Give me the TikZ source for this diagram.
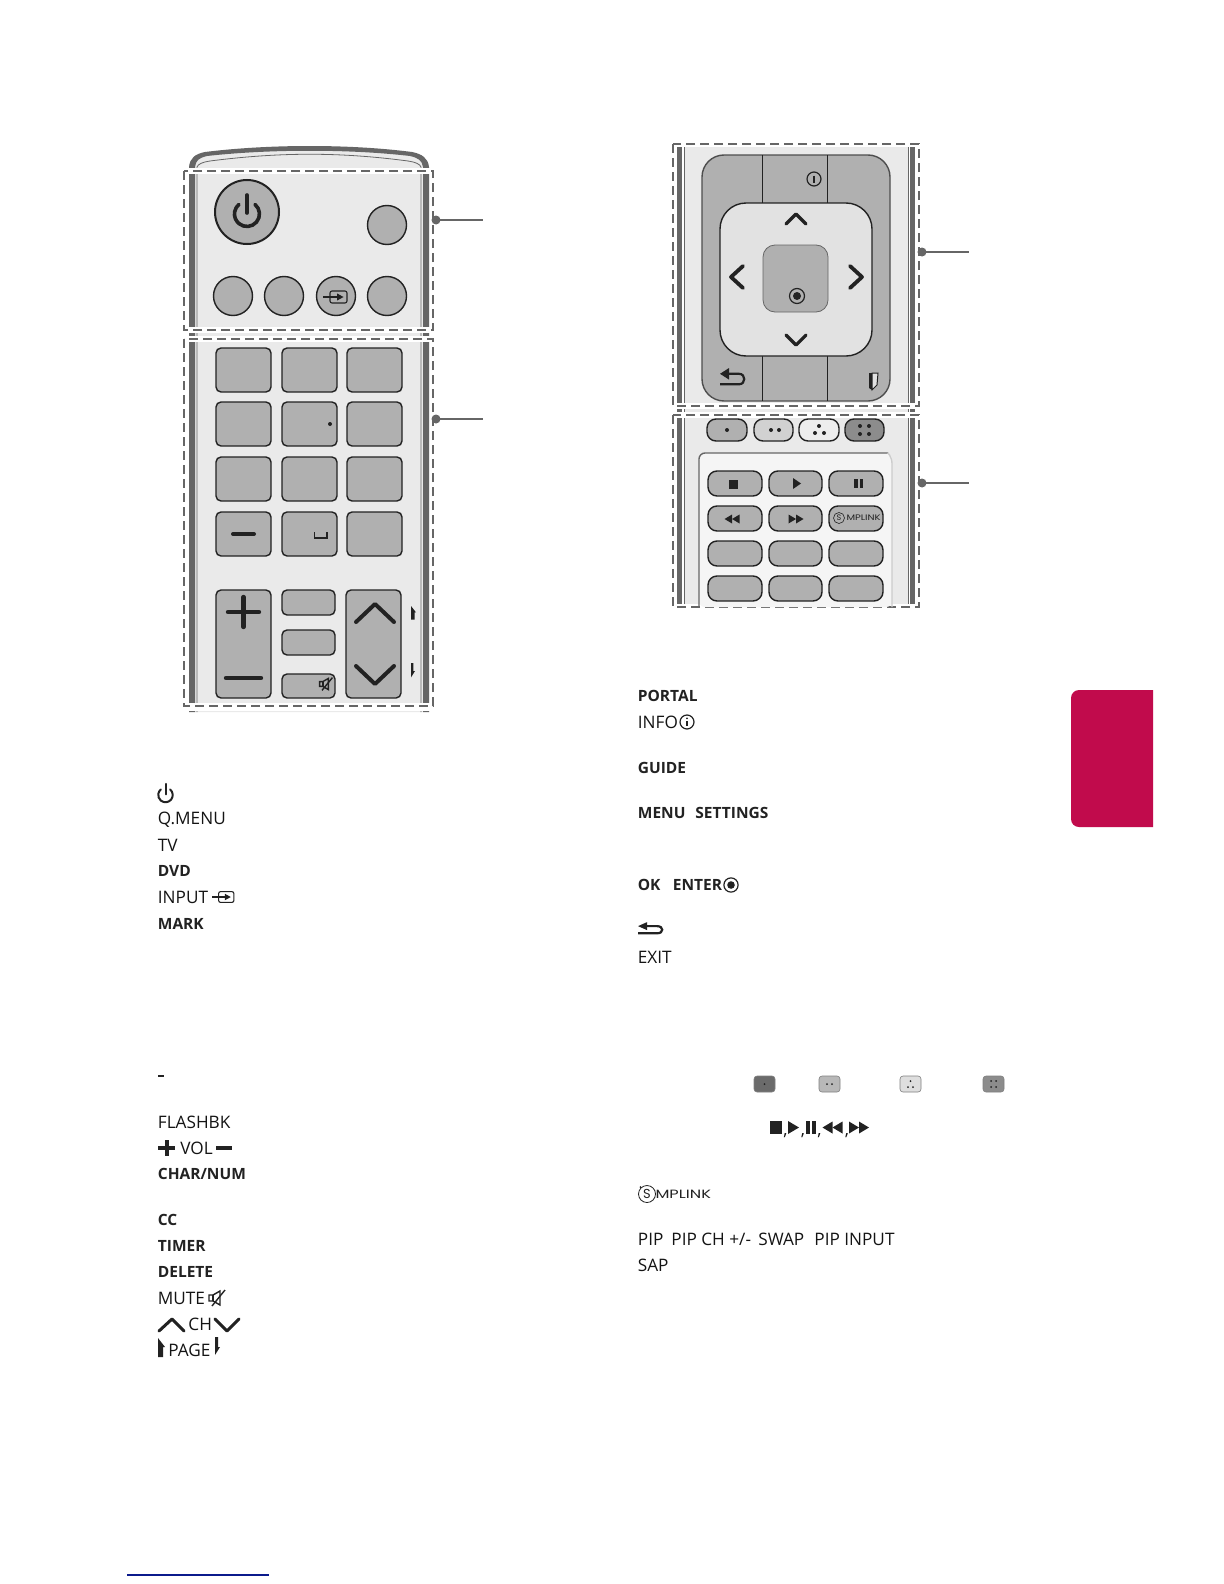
\documentclass[tikz,border=0pt]{standalone}
\usepackage{fontspec}
\setmainfont{Open Sans}
\newfontfamily\logofont{Poppins}
\usepackage{tikz}

\definecolor{keygray}{HTML}{B0B0B0}
\definecolor{bodygray}{HTML}{EAEAEA}
\definecolor{padgray}{HTML}{E2E2E2}
\definecolor{stripgray}{HTML}{666666}
\definecolor{inkblack}{HTML}{222222}
\definecolor{tabred}{HTML}{C10B4C}
\definecolor{linkblue}{HTML}{0B1A8C}

\tikzset{
  key/.style={fill=keygray,draw=inkblack,line width=0.7pt},
  squarekey/.style={key,rounded corners=2.5pt},
  softkey/.style={key,rounded corners=4.5pt},
  strip/.style={fill=stripgray},
  thinline/.style={draw=stripgray,line width=0.4pt},
  halo/.style={draw=white,line width=2.6pt},
  dashbox/.style={draw=stripgray,line width=1.3pt,dash pattern=on 4.7pt off 2.3pt},
  leader/.style={draw=stripgray,line width=1pt},
  blob/.style={fill=stripgray},
  glyph/.style={draw=inkblack,line width=2pt,line cap=round,line join=round},
  ink/.style={fill=inkblack},
  plain/.style={anchor=west,inner sep=0pt,text height=6.1pt,text depth=0pt,text=black!92,font=\fontsize{8.6}{10}\selectfont},
  heavy/.style={anchor=west,inner sep=0pt,text height=5.6pt,text depth=0pt,text=inkblack,font=\fontsize{7.75}{10}\selectfont\bfseries},
  powericon/.pic={
    \draw[glyph,line width=#1] (8,-9.6) arc (-50:230:12.5);
    \draw[glyph,line width=#1] (0,-19) -- (0,-1);
  },
  inputicon/.pic={
    \draw[draw=inkblack,line width=0.55pt,rounded corners=1pt] (-6,-6) rectangle (11,6);
    \draw[draw=inkblack,line width=0.8pt] (-13,0) -- (2,0);
    \fill[ink] (1,-3.6) -- (7.5,0) -- (1,3.6) -- cycle;
  },
  muteicon/.pic={
    \draw[draw=inkblack,line width=0.7pt] (-8,-3) -- (-4,-3) -- (3,-7) -- (3,7) -- (-4,3) -- (-8,3) -- cycle;
    \draw[draw=inkblack,line width=0.7pt] (-4,-3) -- (-4,3);
    \draw[draw=inkblack,line width=0.7pt] (-5,8) -- (8,-8);
  },
  infoicon/.pic={
    \draw[draw=inkblack,line width=0.6pt] (0,0) circle (7);
    \draw[draw=inkblack,line width=1pt] (0,-3.5) -- (0,4);
  },
  infodoticon/.pic={
    \draw[draw=inkblack,line width=0.6pt] (0,0) circle (7);
    \draw[draw=inkblack,line width=1pt] (0,-1) -- (0,4);
    \fill[ink] (0,-3.6) circle (1);
  },
  okicon/.pic={
    \draw[draw=inkblack,line width=0.6pt] (0,0) circle (7.5);
    \fill[ink] (0,0) circle (4);
  },
  backicon/.pic={
    \fill[ink] (-12,-4) -- (-3,-9.5) -- (-3,1.5) -- cycle;
    \draw[draw=inkblack,line width=1.1pt] (-4,-4) -- (7,-4) .. controls (14,-4) and (14,6) .. (7,6) -- (-12,6);
  },
  doublerew/.pic={
    \fill[ink] (-10,0) -- (0,-6) -- (0,6) -- cycle;
    \fill[ink] (0,0) -- (10,-6) -- (10,6) -- cycle;
  },
  doublefwd/.pic={
    \fill[ink] (10,0) -- (0,-6) -- (0,6) -- cycle;
    \fill[ink] (0,0) -- (-10,-6) -- (-10,6) -- cycle;
  },
  pageup/.pic={
    \fill[ink] (0,0) -- (7,9) -- (5,9) -- (5,19) -- (0,19) -- cycle;
  },
  pagedown/.pic={
    \fill[ink] (0,0) -- (3,0) -- (3,10) -- (5,10) -- (0,18) -- cycle;
  },
}

\begin{document}
\begin{tikzpicture}[x=0.5pt,y=-0.5pt]
  \useasboundingbox (0,0) rectangle (1224,1584);
  \fill[white] (0,0) rectangle (1224,1584);

  % Left remote body
  \fill[bodygray] (195,712) -- (195,167) .. controls (196,158) and (203,154) .. (210,153) .. controls (280,146) and (340,146) .. (408,153) .. controls (415,154) and (422,158) .. (423,167) -- (423,712) -- cycle;
  \draw[thinline] (197,712) -- (197,167) .. controls (198,164) and (203,162) .. (210,161) .. controls (280,152) and (340,152) .. (408,161) .. controls (415,162) and (420,164) .. (421,167) -- (421,712);
  \fill[strip] (189,712) -- (189,167) .. controls (190,158) and (195,154) .. (205,152) .. controls (270,144) and (350,144) .. (412,152) .. controls (422,154) and (428,158) .. (429,167) -- (429,712) -- (423,712) -- (423,167) .. controls (422,160) and (418,158) .. (410,156) .. controls (350,149) and (270,149) .. (207,156) .. controls (199,158) and (196,160) .. (195,167) -- (195,712) -- cycle;

  % Dashed parts of the left remote
  \draw[halo] (184,171) rectangle (433,330);
  \draw[halo] (184,339) rectangle (433,706);
  \fill[white] (181,708) rectangle (436,711);
  \draw[dashbox] (184,171) rectangle (433,330);
  \draw[dashbox] (184,339) rectangle (433,706);

  % Power and round keys
  \draw[key,line width=1pt] (247,212) circle (32);
  \pic at (247,214) {powericon=1.8pt};
  \draw[key] (387,225) circle (19.5);
  \draw[key] (233,296) circle (19.5);
  \draw[key] (284,296) circle (19.5);
  \draw[key] (336,296) circle (19.5);
  \draw[key] (387,296) circle (19.5);
  \pic at (336,297) {inputicon};

  % Number keys
  \draw[squarekey] (216,348) rectangle (271,392);
  \draw[squarekey] (282,348) rectangle (337,392);
  \draw[squarekey] (347,348) rectangle (402,392);
  \draw[squarekey] (216,402) rectangle (271,446);
  \draw[squarekey] (282,402) rectangle (337,446);
  \draw[squarekey] (347,402) rectangle (402,446);
  \draw[squarekey] (216,457) rectangle (271,501);
  \draw[squarekey] (282,457) rectangle (337,501);
  \draw[squarekey] (347,457) rectangle (402,501);
  \draw[squarekey] (216,512) rectangle (271,556);
  \draw[squarekey] (282,512) rectangle (337,556);
  \draw[squarekey] (347,512) rectangle (402,556);
  \fill[ink] (330,424) circle (2);
  \draw[glyph] (233,534) -- (254,534);
  \draw[draw=inkblack,line width=0.8pt] (314.5,532) -- (314.5,538) -- (327,538) -- (327,532);

  % Volume, channel and small keys
  \draw[squarekey] (216,590) rectangle (271,698);
  \draw[squarekey] (346,590) rectangle (401,698);
  \draw[squarekey] (282,590) rectangle (335,615);
  \draw[squarekey] (282,630) rectangle (335,655);
  \draw[squarekey] (282,674) rectangle (335,698);
  \draw[glyph,line width=2.2pt] (228,612) -- (259,612);
  \draw[glyph,line width=2.2pt] (243.5,597) -- (243.5,627);
  \draw[glyph,line width=2.2pt] (226,678) -- (261,678);
  \draw[glyph] (356,622) -- (375,604) -- (394,622);
  \draw[glyph] (356,666) -- (375,684) -- (394,666);
  \pic[scale=0.8] at (326,684) {muteicon};
  \pic[scale=0.72] at (411,606) {pageup};
  \pic[scale=0.8] at (411,663) {pagedown};

  % Leaders of the left remote
  \fill[blob] (436,220) circle (4.5);
  \fill[blob] (436,419) circle (4.5);
  \coordinate (powerdot) at (436,220);
  \coordinate (powerend) at (483,220);
  \coordinate (numberdot) at (436,419);
  \coordinate (numberend) at (483,419);
  \draw[leader] (powerdot) -- (powerend);
  \draw[leader] (numberdot) -- (numberend);

  % Right remote body
  \fill[bodygray] (684,144) rectangle (908,607);
  \draw[thinline] (684,144) -- (684,607);
  \draw[thinline] (908,144) -- (908,607);
  \fill[strip] (677,144) rectangle (682,607);
  \fill[strip] (910,144) rectangle (915,607);

  % Dashed parts of the right remote
  \draw[halo] (673,144) rectangle (919,406);
  \draw[halo] (673,415) rectangle (919,607);
  \draw[dashbox] (673,144) rectangle (919,406);
  \draw[dashbox] (673,415) rectangle (919,607);

  % Navigation pad
  \draw[fill=keygray,draw=inkblack!80,line width=0.7pt,rounded corners=11pt] (702,155) rectangle (890,401);
  \draw[draw=inkblack,line width=0.5pt] (762,155) -- (762,203);
  \draw[draw=inkblack,line width=0.5pt] (827,155) -- (827,203);
  \draw[draw=inkblack,line width=0.5pt] (762,356) -- (762,401);
  \draw[draw=inkblack,line width=0.5pt] (827,356) -- (827,401);
  \draw[fill=padgray,draw=inkblack,line width=0.7pt,rounded corners=13pt] (720,203) rectangle (872,356);
  \draw[fill=keygray,draw=stripgray,line width=0.4pt,rounded corners=6pt] (763,245) rectangle (828,312);
  \draw[glyph,line width=1.6pt] (786,224) -- (796,214) -- (806,224);
  \draw[glyph,line width=1.6pt] (786,335) -- (796,345) -- (806,335);
  \draw[glyph,line width=1.9pt] (743,266) -- (731,277) -- (743,288);
  \draw[glyph,line width=1.9pt] (850,266) -- (862,277) -- (850,288);
  \pic at (797,296) {okicon};
  \pic at (814,179) {infoicon};
  \pic[yscale=1.05] at (732,378) {backicon};
  % Door sign
  \fill[ink] (869,373) -- (872,373) -- (872,390) -- (869,388) -- cycle;
  \draw[fill=padgray,draw=inkblack,line width=0.5pt] (872,373) -- (878,373) -- (877,385) -- (872,390) -- cycle;

  % Colour keys
  \draw[softkey,fill=keygray] (707,419) rectangle (747,441);
  \draw[softkey,fill=black!18] (754,419) rectangle (793,441);
  \draw[softkey,fill=black!7] (799,419) rectangle (839,441);
  \draw[softkey,fill=black!45] (845,419) rectangle (884,441);
  \fill[ink] (727,430) circle (2);
  \fill[ink] (771,430) circle (2);
  \fill[ink] (779,430) circle (2);
  \fill[ink] (819,426) circle (2);
  \fill[ink] (815,433) circle (2);
  \fill[ink] (824,433) circle (2);
  \fill[ink] (860,426) circle (2);
  \fill[ink] (869,426) circle (2);
  \fill[ink] (860,434) circle (2);
  \fill[ink] (869,434) circle (2);

  % Media panel
  \fill[black!4,rounded corners=3pt] (699,607) -- (699,453) -- (892,453) -- (892,607) -- cycle;
  \draw[draw=stripgray,line width=0.7pt,rounded corners=3pt] (699,607) -- (699,453) -- (888,453);
  \draw[draw=black!20,line width=0.7pt,rounded corners=3pt] (888,453) -- (892,457) -- (892,607);
  \draw[softkey] (708,471) rectangle (762,496);
  \draw[softkey] (769,471) rectangle (822,496);
  \draw[softkey] (829,471) rectangle (883,496);
  \draw[softkey] (708,506) rectangle (762,531);
  \draw[softkey] (769,506) rectangle (822,531);
  \draw[softkey] (829,506) rectangle (883,531);
  \draw[softkey] (708,541) rectangle (762,566);
  \draw[softkey] (769,541) rectangle (822,566);
  \draw[softkey] (829,541) rectangle (883,566);
  \draw[softkey] (708,576) rectangle (762,601);
  \draw[softkey] (769,576) rectangle (822,601);
  \draw[softkey] (829,576) rectangle (883,601);
  \fill[ink] (729,480) rectangle (738,489);
  \fill[ink] (793,478) -- (801,483.5) -- (793,489) -- cycle;
  \fill[ink] (854,479) rectangle (857.5,488);
  \fill[ink] (859.5,479) rectangle (863,488);
  \pic[scale=0.75] at (732,519) {doublerew};
  \pic[scale=0.75] at (796,519) {doublefwd};

  % Simplink logo on the key
  \draw[draw=inkblack,line width=0.3pt] (839,518) circle (5.5);
  \node[inner sep=0pt,text=inkblack] (keylogos) at (839,518) {\logofont\fontsize{4}{4}\selectfont S};
  \node[inner sep=0pt,anchor=west,xscale=1.25,text=inkblack] (keylogot) at (846,518) {\logofont\fontsize{4}{4}\selectfont MPLINK};

  % Leaders of the right remote
  \fill[blob] (922,252) circle (4.5);
  \fill[blob] (922,483) circle (4.5);
  \coordinate (paddot) at (922,252);
  \coordinate (padend) at (969,252);
  \coordinate (mediadot) at (922,483);
  \coordinate (mediaend) at (969,483);
  \draw[leader] (paddot) -- (padend);
  \draw[leader] (mediadot) -- (mediaend);

  % Side tab
  \fill[tabred,rounded corners=4pt] (1153,690) -- (1071,690) -- (1071,827) -- (1153,827);
  \fill[tabred] (1140,690) rectangle (1153,827);

  % Left list
  \pic[scale=0.58] at (165.5,795) {powericon=1pt};
  \node[plain] (qmenu) at (157.5,818) {Q.MENU};
  \node[plain] (tvname) at (157.5,845) {TV};
  \node[heavy] (dvdname) at (157.5,871) {DVD};
  \node[plain] (inputname) at (157.5,897) {INPUT};
  \pic[scale=0.9] at (224,897) {inputicon};
  \node[heavy] (markname) at (157.5,923.5) {MARK};
  \fill[ink] (158,1075) rectangle (164,1077);
  \node[plain] (flashname) at (157.5,1122) {FLASHBK};
  \draw[glyph,line width=2pt,line cap=butt] (158,1148) -- (175,1148);
  \draw[glyph,line width=2pt,line cap=butt] (166.5,1140) -- (166.5,1156);
  \node[plain] (volname) at (180,1148) {VOL};
  \draw[glyph,line width=2pt,line cap=butt] (216,1148) -- (232,1148);
  \node[heavy] (charname) at (157.5,1174) {CHAR/NUM};
  \node[heavy] (ccname) at (157.5,1220) {CC};
  \node[heavy] (timername) at (157.5,1246) {TIMER};
  \node[heavy] (deletename) at (157.5,1272) {DELETE};
  \node[plain] (mutename) at (157.5,1298) {MUTE};
  \pic at (217,1298) {muteicon};
  \draw[glyph,line width=1.5pt] (159,1331) -- (172,1319) -- (184,1331);
  \node[plain] (chname) at (188,1324) {CH};
  \draw[glyph,line width=1.5pt] (215,1319) -- (227,1331) -- (239,1319);
  \pic at (158,1338) {pageup};
  \node[plain] (pagename) at (168,1350) {PAGE};
  \pic at (215,1337) {pagedown};

  % Right list
  \node[heavy] (portalname) at (637.5,696) {PORTAL};
  \node[plain] (infoname) at (637.5,722) {INFO};
  \pic at (687,722) {infodoticon};
  \node[heavy] (guidename) at (637.5,767.5) {GUIDE};
  \node[heavy] (menuname) at (637.5,813) {MENU};
  \node[heavy] (settingsname) at (695,813) {SETTINGS};
  \node[heavy] (okname) at (637.5,885) {OK};
  \node[heavy] (entername) at (672.5,885) {ENTER};
  \pic[scale=0.95] at (731,885) {okicon};
  \pic[scale=1,yscale=0.72] at (650,929) {backicon};
  \node[plain] (exitname) at (637.5,957) {EXIT};

  % Colour chips
  \draw[rounded corners=1.5pt,fill=black!58,draw=black!50,line width=0.3pt] (754,1076) rectangle (775,1092);
  \draw[rounded corners=1.5pt,fill=black!28,draw=black!50,line width=0.3pt] (819,1076) rectangle (840,1092);
  \draw[rounded corners=1.5pt,fill=black!13,draw=black!50,line width=0.3pt] (900,1076) rectangle (921,1092);
  \draw[rounded corners=1.5pt,fill=black!45,draw=black!50,line width=0.3pt] (983,1076) rectangle (1004,1092);
  \fill[ink] (764.5,1084) circle (1);
  \fill[ink] (827,1084) circle (1);
  \fill[ink] (832,1084) circle (1);
  \fill[ink] (910.5,1081) circle (1);
  \fill[ink] (908,1087) circle (1);
  \fill[ink] (913,1087) circle (1);
  \fill[ink] (991,1081) circle (1);
  \fill[ink] (996,1081) circle (1);
  \fill[ink] (991,1087) circle (1);
  \fill[ink] (996,1087) circle (1);

  % Media signs
  \fill[ink] (770,1121) rectangle (782,1134);
  \fill[ink] (788,1121) -- (799,1127.5) -- (788,1134) -- cycle;
  \fill[ink] (806,1121) rectangle (809.5,1134);
  \fill[ink] (812,1121) rectangle (816,1134);
  \pic at (832.5,1127.5) {doublerew};
  \pic at (859,1127.5) {doublefwd};
  \node[plain,text height=0pt] (commaa) at (783,1135) {,};
  \node[plain,text height=0pt] (commab) at (800.5,1135) {,};
  \node[plain,text height=0pt] (commac) at (817,1135) {,};
  \node[plain,text height=0pt] (commad) at (844.5,1135) {,};

  % Simplink logo in the list
  \draw[draw=inkblack,line width=0.4pt] (647,1194) circle (8.5);
  \fill[ink] (640.5,1187) circle (1);
  \node[inner sep=0pt,text=inkblack] (listlogos) at (647,1194) {\logofont\fontsize{6.5}{7}\selectfont S};
  \node[inner sep=0pt,anchor=west,xscale=1.35,text=inkblack] (listlogot) at (655,1194) {\logofont\fontsize{6}{7}\selectfont MPLINK};

  % PIP names
  \node[plain] (pipname) at (637.5,1239) {PIP};
  \node[plain] (pipchname) at (671,1239) {PIP CH +/-};
  \node[plain] (swapname) at (758,1239) {SWAP};
  \node[plain] (pipinname) at (814,1239) {PIP INPUT};
  \node[plain] (sapname) at (637.5,1265) {SAP};

  % Rule at the foot of the page
  \draw[draw=linkblue,line width=0.7pt] (127,1575) -- (269,1575);
\end{tikzpicture}
\end{document}
